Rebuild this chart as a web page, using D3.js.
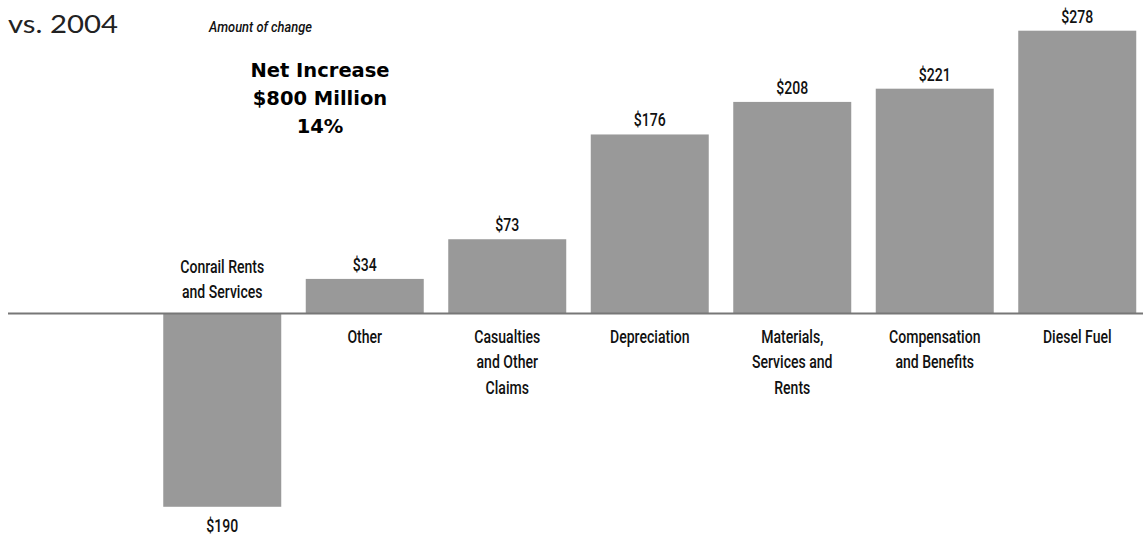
<!DOCTYPE html>
<html>
<head>
<meta charset="utf-8">
<script src="https://cdn.jsdelivr.net/npm/d3@7"></script>
<style>
  html, body { margin: 0; padding: 0; background: #fff; }
  svg { display: block; }
</style>
</head>
<body>
<svg id="chart" width="1143" height="539"></svg>
<script>
// ---- data ----
const categories = ["Conrail Rents", "Other", "Casualties", "Depreciation", "Materials", "Compensation", "Diesel Fuel"];
const categoryLabels = [
  ["Conrail Rents", "and Services"],
  ["Other"],
  ["Casualties", "and Other", "Claims"],
  ["Depreciation"],
  ["Materials,", "Services and", "Rents"],
  ["Compensation", "and Benefits"],
  ["Diesel Fuel"]
];
const values = [-190, 34, 73, 176, 208, 221, 278];
const valueLabels = ["$190", "$34", "$73", "$176", "$208", "$221", "$278"];
const titleText = "vs. 2004";
const subtitleText = "Amount of change";
const summaryLines = ["Net Increase", "$800 Million", "14%"];

// ---- layout ----
const svg = d3.select("#chart");
const baseY = 313.5;
const labelFont = "Roboto, 'DejaVu Sans', sans-serif";
const labelSize = 19;
const labelWeight = 500;
const squeeze = 0.74;

const x = d3.scaleBand()
  .domain(categories)
  .range([151, 1148.5])
  .paddingInner(0.172)
  .paddingOuter(0.086);

const y = d3.scaleLinear()
  .domain([0, 278])
  .range([baseY, 30.7]);

const data = categories.map((c, i) => ({ cat: c, value: values[i], vlabel: valueLabels[i], lines: categoryLabels[i] }));

// bars
svg.append("g").selectAll("rect")
  .data(data)
  .join("rect")
  .attr("x", d => x(d.cat))
  .attr("width", x.bandwidth())
  .attr("y", d => Math.min(y(d.value), y(0)))
  .attr("height", d => Math.abs(y(d.value) - y(0)))
  .attr("fill", "#999999");

// baseline
svg.append("line")
  .attr("x1", 8).attr("x2", 1143)
  .attr("y1", y(0)).attr("y2", y(0))
  .attr("stroke", "#777")
  .attr("stroke-width", 2);

function condensed(sel) {
  return sel
    .attr("text-anchor", "middle")
    .attr("font-family", labelFont)
    .attr("font-size", labelSize)
    .attr("font-weight", labelWeight)
    .attr("fill", "#111");
}

// value labels
svg.append("g").selectAll("text")
  .data(data)
  .join("text")
  .attr("transform", d => {
    const cx = x(d.cat) + x.bandwidth() / 2;
    const yy = d.value >= 0 ? y(d.value) - 8 : y(d.value) + 25.5;
    return `translate(${cx},${yy}) scale(${squeeze},1)`;
  })
  .call(condensed)
  .text(d => d.vlabel);

// category labels
svg.append("g").selectAll("g")
  .data(data)
  .join("g")
  .attr("transform", d => `translate(${x(d.cat) + x.bandwidth() / 2},${y(0)}) scale(${squeeze},1)`)
  .each(function(d) {
    const g = d3.select(this);
    const n = d.lines.length;
    d.lines.forEach((line, i) => {
      const yy = d.value < 0 ? -15.5 - (n - 1 - i) * 25 : 29.5 + i * 25.5;
      g.append("text").attr("x", 0).attr("y", yy).call(condensed).text(line);
    });
  });

// title
svg.append("text")
  .attr("x", 8).attr("y", 33)
  .attr("font-family", "Lato, 'Noto Sans', sans-serif")
  .attr("font-size", 25)
  .attr("fill", "#222")
  .attr("textLength", 110)
  .attr("lengthAdjust", "spacingAndGlyphs")
  .text(titleText);

svg.append("text")
  .attr("x", 209).attr("y", 32)
  .attr("font-family", labelFont)
  .attr("font-style", "italic")
  .attr("font-weight", 500)
  .attr("font-size", 15)
  .attr("fill", "#111")
  .attr("textLength", 103)
  .attr("lengthAdjust", "spacingAndGlyphs")
  .text(subtitleText);

// summary
svg.append("g").selectAll("text")
  .data(summaryLines)
  .join("text")
  .attr("x", 320)
  .attr("y", (d, i) => 77 + i * 28)
  .attr("text-anchor", "middle")
  .attr("font-family", "'DejaVu Sans', sans-serif")
  .attr("font-weight", "bold")
  .attr("font-size", 19.5)
  .attr("fill", "#000")
  .text(d => d);
</script>
</body>
</html>
